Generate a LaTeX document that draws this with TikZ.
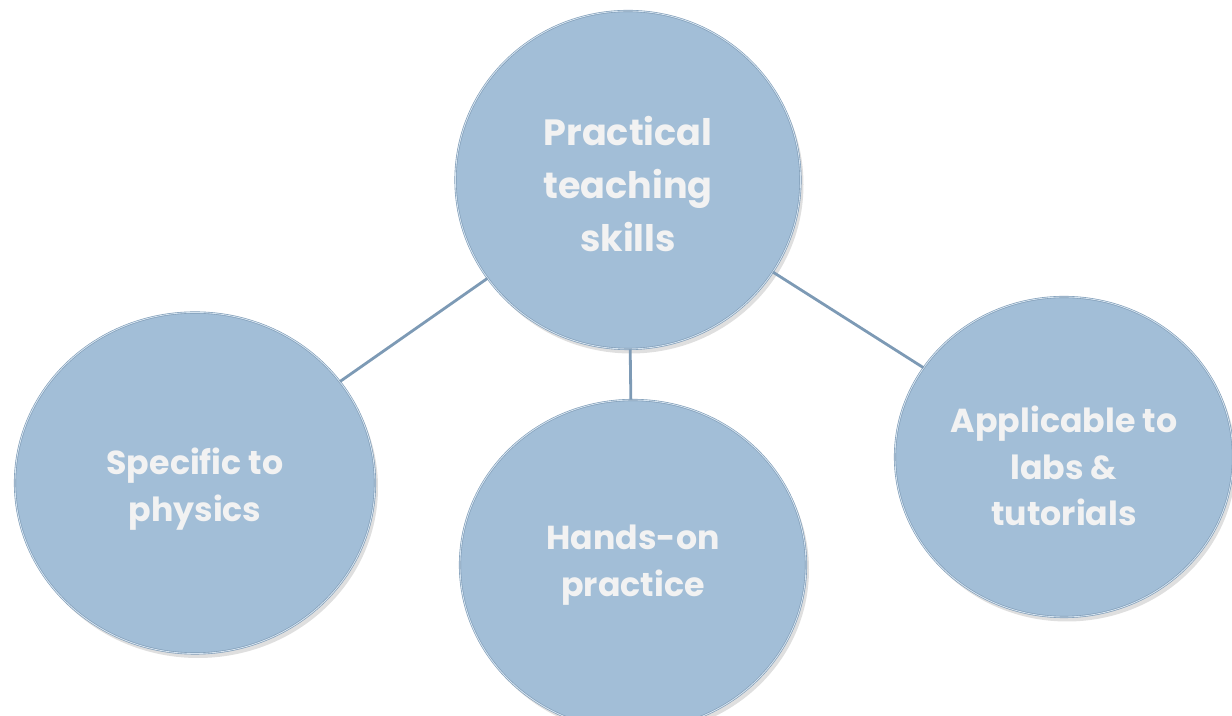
\documentclass[tikz,border=0pt]{standalone}
\usepackage{fontspec}
\setmainfont{Poppins}
\usepackage{tikz}
\usetikzlibrary{shapes.geometric,shadows}

\definecolor{bubblefill}{HTML}{A2BED7}
\definecolor{bubblerim}{HTML}{7E9BB6}
\definecolor{bubblehl}{HTML}{D4E3F0}
\definecolor{linkcol}{HTML}{7D9AB5}
\definecolor{labeltext}{HTML}{F2F2F2}

\tikzset{
    bubble/.style={ellipse, fill=bubblefill, draw=bubblerim, line width=0.35pt,
        double=bubblehl, double distance=0.5pt,
        drop shadow={shadow xshift=0.6mm, shadow yshift=-0.9mm, opacity=0.25},
        inner sep=0pt},
    bubbletext/.style={text=labeltext, align=center,
        font=\bfseries\fontsize{18.9}{26.5}\selectfont},
    link/.style={draw=linkcol, line width=1.6pt}
}

\begin{document}
\begin{tikzpicture}
        \useasboundingbox (0,0) rectangle (24.64,14.32);

        % Centre topic
        \node[bubble, minimum width=6.9cm, minimum height=6.76cm,
              label={[bubbletext, yshift=-0.08cm, font=\bfseries\fontsize{20.8}{30}\selectfont]center:Practical\\teaching\\skills}]
              (practical) at (12.56,10.72) {};

        % Sub topics
        \node[bubble, minimum width=7.2cm, minimum height=6.82cm,
              label={[bubbletext, yshift=-0.12cm]center:Specific to\\physics}]
              (physics) at (3.9,4.66) {};
        \node[bubble, minimum width=6.92cm, minimum height=6.6cm,
              label={[bubbletext]center:Hands-on\\practice}]
              (handson) at (12.66,3.02) {};
        \node[bubble, minimum width=6.76cm, minimum height=6.4cm,
              label={[bubbletext, yshift=-0.18cm]center:Applicable to\\labs \&\\tutorials}]
              (labs) at (21.28,5.18) {};

        % Links from the centre topic
        \draw[link] (practical) -- (physics);
        \draw[link] (practical) -- (handson);
        \draw[link] (practical) -- (labs);
\end{tikzpicture}
\end{document}
